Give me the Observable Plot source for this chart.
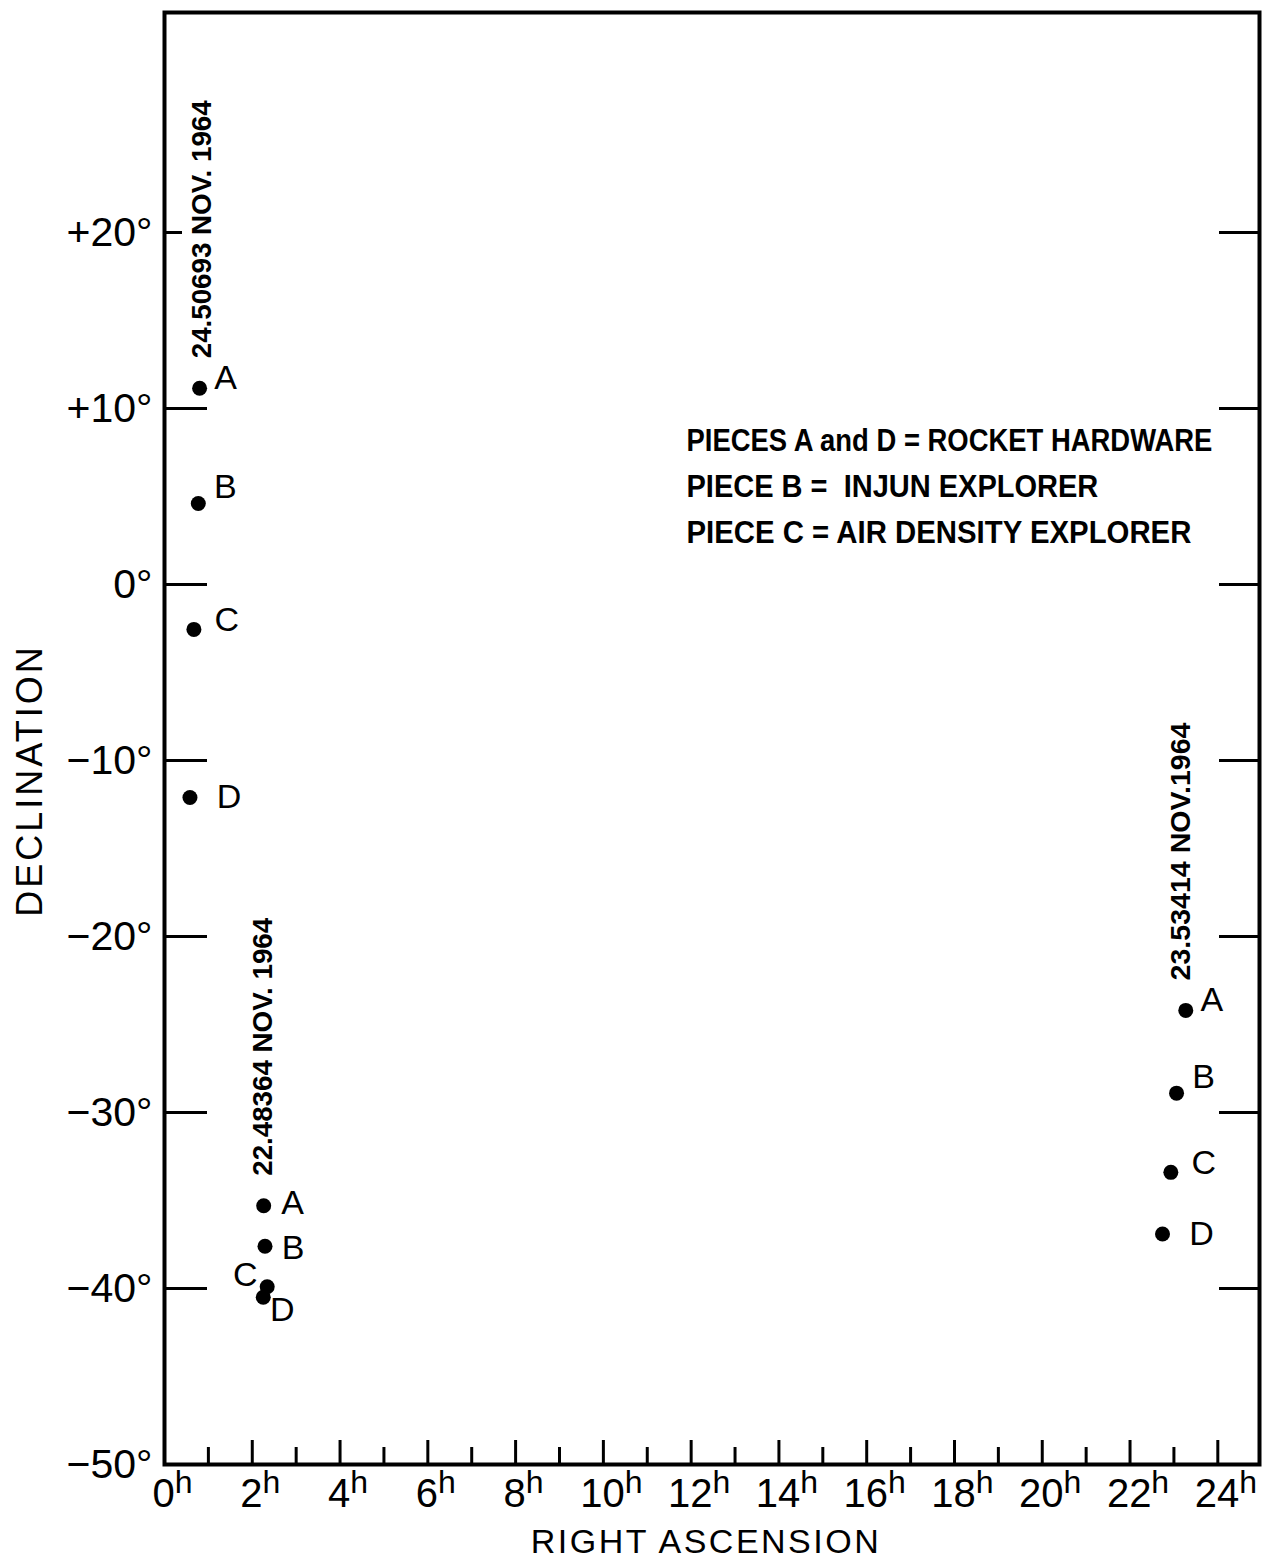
<!DOCTYPE html>
<html><head><meta charset="utf-8">
<script src="https://cdn.jsdelivr.net/npm/d3@7"></script>
<script src="https://cdn.jsdelivr.net/npm/@observablehq/plot@0.6"></script>
<style>body{margin:0;background:#fff}</style>
</head><body><div id="chart"></div>
<script>
// ---- data ----
const pieces = ["A", "B", "C", "D"];
const epochLabels = ["24.50693 NOV. 1964", "22.48364 NOV. 1964", "23.53414 NOV.1964"];
const raEpoch1 = [0.80, 0.77, 0.67, 0.58];
const decEpoch1 = [11.15, 4.6, -2.55, -12.1];
const raEpoch2 = [2.26, 2.29, 2.34, 2.25];
const decEpoch2 = [-35.3, -37.6, -39.9, -40.5];
const raEpoch3 = [23.27, 23.06, 22.93, 22.74];
const decEpoch3 = [-24.2, -28.9, -33.4, -36.9];
const decTicks = [20, 10, 0, -10, -20, -30, -40, -50];
const decTickLabels = ["+20°", "+10°", "0°", "−10°", "−20°", "−30°", "−40°", "−50°"];
const raMajor = [0, 2, 4, 6, 8, 10, 12, 14, 16, 18, 20, 22, 24];
const raMinor = [1, 3, 5, 7, 9, 11, 13, 15, 17, 19, 21, 23];
const raTickLabels = ["0", "2", "4", "6", "8", "10", "12", "14", "16", "18", "20", "22", "24"];
const legendLines = ["PIECES A and D = ROCKET HARDWARE", "PIECE B =  INJUN EXPLORER", "PIECE C = AIR DENSITY EXPLORER"];
const xTitle = "RIGHT ASCENSION";
const yTitle = "DECLINATION";

// ---- table ----
const epochs = [[raEpoch1, decEpoch1], [raEpoch2, decEpoch2], [raEpoch3, decEpoch3]];
const points = [];
epochs.forEach(([ra, dec], e) => pieces.forEach((p, i) => points.push({epoch: e, piece: p, ra: ra[i], dec: dec[i]})));

// ---- styling ----
const W = 1263, H = 1562, mL = 164, mR = 4, mT = 12, mB = 98;
const PW = W - mL - mR, PH = H - mT - mB;
const font = "Liberation Sans, Arial, sans-serif";
const offsStd = {A: [26, -10], B: [27, -16], C: [33, -9], D: [39, 0]};
const offsE2 = {A: [29, -3], B: [28, 2], C: [-22, -12], D: [19, 13]};
const dateDx = [2, -1, -5];
const legendWidths = [526, 412, 505];
const legendDy = [428, 474, 520];

const labelMarks = points.map(d => {
  const [dx, dy] = (d.epoch === 1 ? offsE2 : offsStd)[d.piece];
  return Plot.text([d], {x: "ra", y: "dec", text: "piece", dx, dy, fontSize: 34, textAnchor: "middle", lineAnchor: "middle", fill: "black"});
});
const dateMarks = epochs.map((_, e) => Plot.text(points.filter(d => d.epoch === e && d.piece === "A"), {
  x: "ra", y: "dec", text: () => epochLabels[e], rotate: -90, textAnchor: "start", lineAnchor: "middle",
  dx: dateDx[e], dy: -30, fontSize: 28, fontWeight: "bold", fill: "black"
}));
const legendMarks = legendLines.map((t, i) => Plot.text([t], {
  frameAnchor: "top-left", text: d => d, dx: 686 - mL, dy: legendDy[i], textAnchor: "start", lineAnchor: "middle",
  fontSize: 32, fontWeight: "bold", fill: "black"
}));

const chart = Plot.plot({
  width: W, height: H,
  marginLeft: mL, marginRight: mR, marginTop: mT, marginBottom: mB,
  x: {domain: [0, 24.95], axis: null},
  y: {domain: [-50, 32.5], axis: null},
  style: {fontFamily: font, background: "white", color: "black"},
  marks: [
    Plot.tickY(decTicks.filter(d => d !== 20), {y: d => d, insetRight: PW - 43, strokeWidth: 3, stroke: "black"}),
    Plot.tickY([20], {y: d => d, insetRight: PW - 18, strokeWidth: 3, stroke: "black"}),
    Plot.tickY(decTicks.filter(d => d > -50), {y: d => d, insetLeft: PW - 40, strokeWidth: 3, stroke: "black"}),
    Plot.tickX(raMajor, {x: d => d, insetTop: PH - 24, strokeWidth: 3, stroke: "black"}),
    Plot.tickX(raMinor, {x: d => d, insetTop: PH - 17, strokeWidth: 3, stroke: "black"}),
    Plot.frame({stroke: "black", strokeWidth: 4}),
    Plot.text(decTicks, {y: d => d, frameAnchor: "left", text: (d, i) => decTickLabels[i], textAnchor: "end", lineAnchor: "middle", dx: -12, fontSize: 41, fill: "black"}),
    Plot.text(raMajor, {x: d => d, frameAnchor: "bottom", text: (d, i) => raTickLabels[i], textAnchor: "middle", lineAnchor: "top", dx: 8, dy: 14, fontSize: 40, fill: "black"}),
    Plot.text([yTitle], {frameAnchor: "left", text: d => d, rotate: -90, textAnchor: "middle", lineAnchor: "middle", dx: 30 - mL, dy: 42, fontSize: 36, fill: "black"}),
    Plot.text([xTitle], {frameAnchor: "bottom", text: d => d, textAnchor: "middle", lineAnchor: "middle", dx: -6, dy: 78, fontSize: 34, fill: "black"}),
    Plot.dot(points, {x: "ra", y: "dec", r: 7.5, fill: "black"}),
    ...labelMarks,
    ...dateMarks,
    ...legendMarks
  ]
});
document.getElementById("chart").appendChild(chart);

// post-styling, matched by text content
function squeeze(t, target) {
  const natural = t.getComputedTextLength();
  if (natural > 0) {
    const s = target / natural;
    const tr = t.getAttribute("transform") || "";
    t.setAttribute("transform", (tr + ` scale(${s},1)`).trim());
  }
}
chart.querySelectorAll("text").forEach(t => {
  const s = t.textContent;
  if (t.querySelector("tspan")) return;
  if (raTickLabels.includes(s)) {
    const ts = document.createElementNS("http://www.w3.org/2000/svg", "tspan");
    ts.setAttribute("font-size", "32");
    ts.setAttribute("dy", "-14");
    ts.textContent = "h";
    t.appendChild(ts);
  } else if (legendLines.includes(s)) {
    squeeze(t, legendWidths[legendLines.indexOf(s)]);
  } else if (epochLabels.includes(s)) {
    squeeze(t, 258);
  } else if (s === xTitle || s === yTitle) {
    t.setAttribute("letter-spacing", s === xTitle ? "2.5" : "3");
  }
});
</script>
</body></html>
